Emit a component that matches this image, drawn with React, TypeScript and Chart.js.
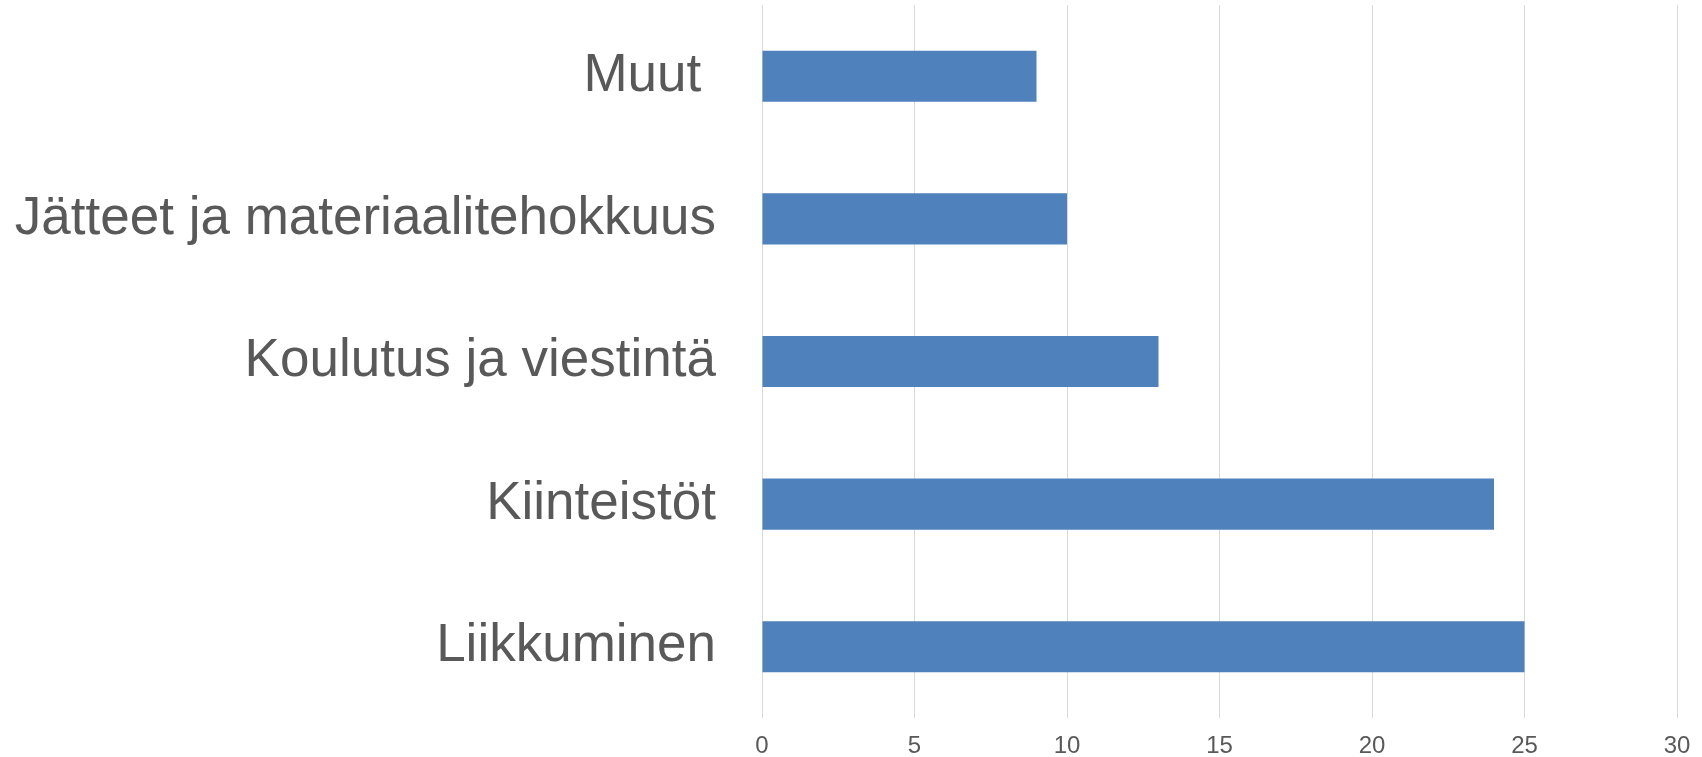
import React, { useEffect, useRef } from "react";
import { Chart, registerables } from "chart.js";

Chart.register(...registerables);

const categories = ["Muut ", "Jätteet ja materiaalitehokkuus", "Koulutus ja viestintä", "Kiinteistöt", "Liikkuminen"];
const values = [9, 10, 13, 24, 25];
const xTicks = [0, 5, 10, 15, 20, 25, 30];

export default function App() {
  const ref = useRef<HTMLCanvasElement | null>(null);
  useEffect(() => {
    document.body.style.margin = "0";
    const chart = new Chart(ref.current!, {
      type: "bar",
      data: {
        labels: categories,
        datasets: [
          {
            data: values,
            backgroundColor: "#4f81bd",
            borderWidth: 0,
            categoryPercentage: 0.358,
            barPercentage: 1,
          },
        ],
      },
      options: {
        indexAxis: "y",
        animation: false,
        responsive: true,
        maintainAspectRatio: false,
        layout: { padding: { left: 0, right: 25, top: 5, bottom: 0 } },
        plugins: { legend: { display: false }, tooltip: { enabled: false } },
        scales: {
          x: {
            min: xTicks[0],
            max: xTicks[xTicks.length - 1],
            afterBuildTicks: (s: any) => {
              s.ticks = xTicks.map((v) => ({ value: v }));
            },
            afterFit: (s: any) => {
              s.height = 39;
              s.paddingLeft = 0;
              s.paddingRight = 0;
            },
            grid: { color: "#d9d9d9", lineWidth: 1, drawTicks: false },
            border: { display: false },
            ticks: {
              padding: 14,
              color: "#595959",
              font: { family: "'Liberation Sans', Arial, sans-serif", size: 24 },
            },
          },
          y: {
            afterFit: (s: any) => {
              s.width = 762;
              s.paddingTop = 0;
              s.paddingBottom = 0;
            },
            grid: { display: false, drawTicks: false },
            border: { display: false },
            ticks: {
              padding: 46,
              color: "#595959",
              font: { family: "'Liberation Sans', Arial, sans-serif", size: 53 },
            },
          },
        },
      },
    });
    return () => chart.destroy();
  }, []);
  return (
    <div style={{ position: "relative", width: 1702, height: 757 }}>
      <canvas ref={ref} />
    </div>
  );
}
